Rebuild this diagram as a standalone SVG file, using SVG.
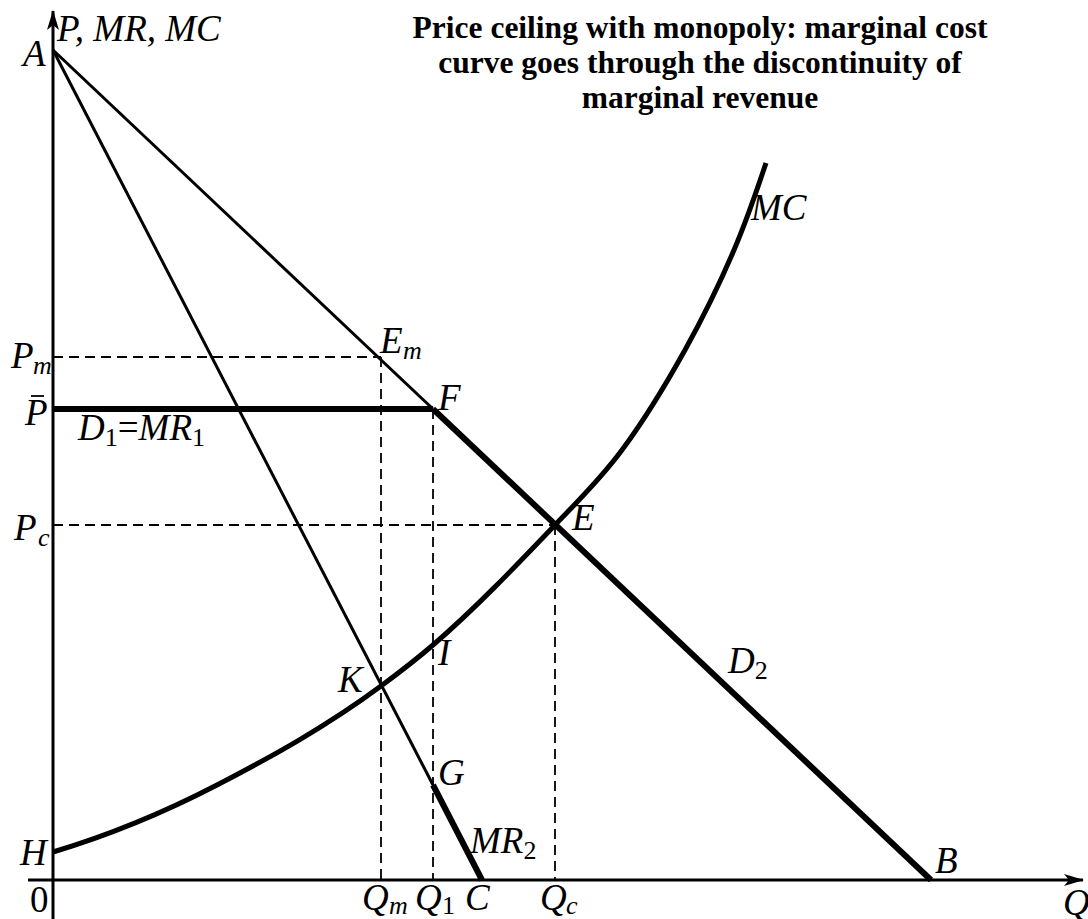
<svg xmlns="http://www.w3.org/2000/svg" width="1088" height="919" viewBox="0 0 1088 919">
<style>
.lbl{font-family:"Liberation Serif","Times New Roman",serif;font-style:italic;font-size:37px;fill:#000}
.sub{font-size:26px}
.up{font-style:normal}
.ttl{font-family:"Liberation Serif","Times New Roman",serif;font-weight:bold;font-size:31.5px;fill:#000;text-anchor:middle}
.axis{stroke:#000;stroke-width:3;fill:none}
.thin{stroke:#000;stroke-width:3;fill:none}
.thick{stroke:#000;stroke-width:6;fill:none}
.dash{stroke:#000;stroke-width:1.8;stroke-dasharray:10 6;fill:none}
</style>
<defs>
<marker id="arr" viewBox="0 0 20 12" refX="19" refY="6" markerWidth="20" markerHeight="12" markerUnits="userSpaceOnUse" orient="auto">
<path d="M0,0 L20,6 L0,12 L5,6 Z" fill="#000"/>
</marker>
</defs>
<rect width="1088" height="919" fill="#fff"/>
<g id="title">
<text class="ttl" x="700" y="38">Price ceiling with monopoly: marginal cost</text>
<text class="ttl" x="700" y="73">curve goes through the discontinuity of</text>
<text class="ttl" x="700" y="108">marginal revenue</text>
</g>
<g id="axes">
<line class="axis" x1="53" y1="919" x2="53" y2="11" marker-end="url(#arr)"/>
<line class="axis" x1="28" y1="880" x2="1083" y2="880" marker-end="url(#arr)"/>
</g>
<g id="connectors">
<path class="dash" d="M53,357 H381 M381,357 V880 M433,409 V880 M53,525 H555 M555,525 V880"/>
<line class="thin" x1="53" y1="50" x2="433" y2="409"/>
<line class="thick" x1="433" y1="409" x2="931" y2="880"/>
<line class="thin" x1="53" y1="50" x2="433" y2="785"/>
<line class="thick" x1="433" y1="785" x2="482" y2="880"/>
<line class="thick" x1="53" y1="409" x2="433" y2="409"/>
<path id="mc" stroke="#000" stroke-width="5" fill="none" d="M53,852 C107.7,835.6 162.3,813.4 217,785 C271.7,756.6 326.3,726.5 381,686 C398.3,673.2 415.7,659.9 433,645 C473.7,610 514.3,567.7 555,525 C577.3,501.6 599.7,480.1 622,450 C643,421.7 664,387.8 685,350 C701.3,320.6 717.7,288.4 734,250 C744.7,224.9 755.3,195 766,163"/>
</g>
<g id="labels">
<text id="lbl-axisP" class="lbl" x="57" y="41">P, MR, MC</text>
<text id="lbl-A" class="lbl" x="23" y="66">A</text>
<text id="lbl-Pm" class="lbl" x="11" y="368">P<tspan class="sub" x="33" y="374">m</tspan></text>
<g id="lbl-Pbar"><text class="lbl" x="25" y="425">P</text><line x1="31" y1="396" x2="44" y2="396" stroke="#000" stroke-width="1.8"/></g>
<text id="lbl-D1" class="lbl" x="78" y="440">D<tspan class="sub up" y="446">1</tspan><tspan class="up" y="440">=</tspan>MR<tspan class="sub up" y="446">1</tspan></text>
<text id="lbl-Pc" class="lbl" x="14" y="540">P<tspan class="sub" x="38" y="546">c</tspan></text>
<text id="lbl-H" class="lbl" x="20" y="865">H</text>
<text id="lbl-0" class="lbl up" x="30" y="912">0</text>
<text id="lbl-Qm" class="lbl" x="362" y="910">Q<tspan class="sub" x="389" y="914">m</tspan></text>
<text id="lbl-Q1" class="lbl" x="415" y="910">Q<tspan class="sub up" x="442" y="914">1</tspan></text>
<text id="lbl-C" class="lbl" x="465" y="910">C</text>
<text id="lbl-Qc" class="lbl" x="540" y="910">Q<tspan class="sub" x="566" y="914">c</tspan></text>
<text id="lbl-MR2" class="lbl" x="470" y="853">MR<tspan class="sub up" y="859">2</tspan></text>
<text id="lbl-B" class="lbl" x="935" y="873">B</text>
<text id="lbl-Q" class="lbl" x="1063" y="915">Q</text>
<text id="lbl-Em" class="lbl" x="380" y="353">E<tspan class="sub" x="403" y="359">m</tspan></text>
<text id="lbl-F" class="lbl" x="438" y="410">F</text>
<text id="lbl-E" class="lbl" x="572" y="530">E</text>
<text id="lbl-K" class="lbl" x="338" y="692">K</text>
<text id="lbl-I" class="lbl" x="438" y="665">I</text>
<text id="lbl-G" class="lbl" x="438" y="785">G</text>
<text id="lbl-MC" class="lbl" x="751" y="220">MC</text>
<text id="lbl-D2" class="lbl" x="728" y="673">D<tspan class="sub up" y="679">2</tspan></text>
</g>
</svg>
